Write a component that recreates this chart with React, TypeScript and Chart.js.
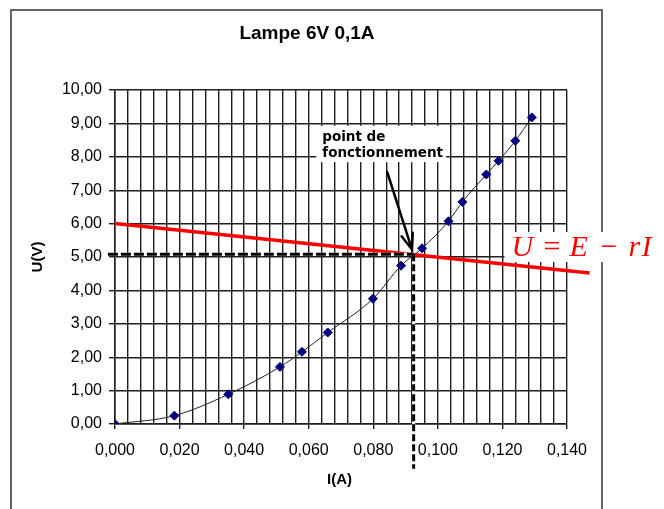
import React, { useEffect, useRef } from 'react';
import { Chart, registerables } from 'chart.js';
Chart.register(...registerables);

// Measured lamp characteristic
const currentA = [0, 0.0184, 0.0351, 0.0511, 0.0579, 0.0659, 0.0799, 0.0886, 0.0951, 0.1033, 0.1076, 0.115, 0.1188, 0.124, 0.1291];
const voltageV = [0, 0.25, 0.89, 1.71, 2.16, 2.74, 3.75, 4.74, 5.26, 6.07, 6.65, 7.47, 7.88, 8.48, 9.18];

// Load line U = E - rI
const loadLineI = [0, 0.147];
const loadLineU = [6.0, 4.52];

// Operating point guides
const guideHI = [-0.0022, 0.0925];
const guideHU = [5.08, 5.08];
const guideVI = [0.0925, 0.0925];
const guideVU = [5.08, -1.34];

// Annotation anchors (data coordinates)
const arrowI = [0.0843, 0.092];
const arrowU = [7.55, 5.22];
const noteI = 0.0642;
const noteU = [8.48, 7.99];
const noteLines = ['point de', 'fonctionnement'];
const formulaI = 0.1225;
const formulaU = 5.03;

const title = 'Lampe 6V 0,1A';
const xTitle = 'I(A)';
const yTitle = 'U(V)';

const xMin = 0, xMax = 0.14, xStep = 0.004;
const yMin = 0, yMax = 10, yStep = 1;

const isMajor = (v: number) => Math.round(v * 1000) % 20 === 0;
const GRID = '#1e1e1e';

const pts = (xs: number[], ys: number[]) => xs.map((x, i) => ({ x, y: ys[i] }));

const decor = {
  id: 'decor',
  beforeDraw(chart: any) {
    const ctx = chart.ctx;
    ctx.save();
    ctx.fillStyle = '#fff';
    ctx.fillRect(0, 0, chart.width, chart.height);
    ctx.restore();
  },
  afterDraw(chart: any) {
    const ctx = chart.ctx;
    const xs = chart.scales.x, ys = chart.scales.y;
    ctx.save();
    // outer frame
    ctx.strokeStyle = '#333';
    ctx.lineWidth = 1.5;
    ctx.strokeRect(11, 10, 591, 540);

    // title
    ctx.fillStyle = '#000';
    ctx.font = 'bold 19px "Liberation Sans", Arial, sans-serif';
    ctx.textAlign = 'center';
    ctx.textBaseline = 'alphabetic';
    ctx.fillText(title, 307, 39);

    // axis titles
    ctx.font = 'bold 15px "Liberation Sans", Arial, sans-serif';
    ctx.textBaseline = 'middle';
    ctx.fillText(xTitle, 339.5, 480);
    ctx.save();
    ctx.translate(38, 257);
    ctx.rotate(-Math.PI / 2);
    ctx.fillText(yTitle, 0, 0);
    ctx.restore();

    // note box
    ctx.font = 'bold 13.5px "DejaVu Sans", sans-serif';
    ctx.textAlign = 'left';
    ctx.textBaseline = 'alphabetic';
    const nx = xs.getPixelForValue(noteI);
    const ny0 = ys.getPixelForValue(noteU[0]);
    const ny1 = ys.getPixelForValue(noteU[1]);
    const w = Math.max(...noteLines.map((t) => ctx.measureText(t).width));
    ctx.fillStyle = '#fff';
    ctx.fillRect(nx - 6, ny0 - 15, w + 9, ny1 - ny0 + 20);
    ctx.fillStyle = '#000';
    ctx.fillText(noteLines[0], nx, ny0);
    ctx.fillText(noteLines[1], nx, ny1);

    // arrow
    const ax0 = xs.getPixelForValue(arrowI[0]), ay0 = ys.getPixelForValue(arrowU[0]);
    const ax1 = xs.getPixelForValue(arrowI[1]), ay1 = ys.getPixelForValue(arrowU[1]);
    ctx.strokeStyle = '#000';
    ctx.lineWidth = 2.5;
    ctx.lineCap = 'round';
    ctx.beginPath();
    ctx.moveTo(ax0, ay0);
    ctx.lineTo(ax1, ay1);
    const ang = Math.atan2(ay1 - ay0, ax1 - ax0);
    const hl = 17;
    ctx.moveTo(ax1 - hl * Math.cos(ang - 0.35), ay1 - hl * Math.sin(ang - 0.35));
    ctx.lineTo(ax1, ay1);
    ctx.lineTo(ax1 - hl * Math.cos(ang + 0.35), ay1 - hl * Math.sin(ang + 0.35));
    ctx.stroke();

    // formula
    const fx = xs.getPixelForValue(formulaI);
    const fy = ys.getPixelForValue(formulaU);
    ctx.fillStyle = '#fff';
    ctx.fillRect(fx - 6, fy - 24, 154, 30);
    ctx.fillStyle = '#ff0000';
    const it = 'italic 30px "Liberation Serif", "Times New Roman", serif';
    const up = '30px "Liberation Serif", "Times New Roman", serif';
    const parts: [string, string, number][] = [
      ['U', it, 1], ['=', up, 33], ['E', it, 59], ['\u2212', up, 90], ['r', it, 118], ['I', it, 131],
    ];
    parts.forEach(([t, f, dx]) => {
      ctx.font = f;
      ctx.fillText(t, fx + dx, fy);
    });
    ctx.restore();
  },
};

export default function App() {
  const ref = useRef<HTMLCanvasElement>(null);
  useEffect(() => {
    document.body.style.margin = '0';
    const chart = new Chart(ref.current!, {
      type: 'scatter',
      data: {
        datasets: [
          {
            data: pts(currentA, voltageV),
            showLine: true,
            cubicInterpolationMode: 'monotone',
            borderColor: '#222',
            borderWidth: 1,
            pointStyle: 'rectRot',
            pointRadius: 4.5,
            pointBackgroundColor: '#000080',
            pointBorderColor: '#000080',
            order: 0,
          },
          {
            data: pts(guideVI, guideVU),
            showLine: true,
            borderColor: '#000',
            borderWidth: 3,
            borderDash: [7, 3],
            pointRadius: 0,
            clip: false,
            order: 1,
          },
          {
            data: pts(guideHI, guideHU),
            showLine: true,
            borderColor: '#000',
            borderWidth: 3,
            borderDash: [10, 3],
            pointRadius: 0,
            clip: false,
            order: 1,
          },
          {
            data: pts(guideVI, guideVU),
            showLine: true,
            borderColor: '#fff',
            borderWidth: 3,
            pointRadius: 0,
            clip: false,
            order: 2,
          },
          {
            data: pts(guideHI, guideHU),
            showLine: true,
            borderColor: '#fff',
            borderWidth: 3,
            pointRadius: 0,
            clip: false,
            order: 2,
          },
          {
            data: pts(loadLineI, loadLineU),
            showLine: true,
            borderColor: '#ff0000',
            borderWidth: 3.5,
            pointRadius: 0,
            clip: false,
            order: 3,
          },
        ],
      },
      options: {
        animation: false,
        responsive: false,
        maintainAspectRatio: false,
        layout: { padding: { top: 90, left: 0, right: 97, bottom: 0 } },
        plugins: { legend: { display: false }, tooltip: { enabled: false }, title: { display: false } },
        scales: {
          x: {
            type: 'linear',
            min: xMin,
            max: xMax,
            afterFit: (s: any) => { s.height = 85; },
            border: { color: GRID, width: 1.5 },
            grid: {
              color: GRID,
              lineWidth: 1.4,
              tickLength: 5,
              tickColor: (c: any) => (c.tick && isMajor(c.tick.value) ? GRID : 'rgba(0,0,0,0)'),
            },
            ticks: {
              stepSize: xStep,
              autoSkip: false,
              maxRotation: 0,
              minRotation: 0,
              padding: 12,
              color: '#000',
              font: { family: '"Liberation Sans", Arial, sans-serif', size: 16 },
              callback: (v: any) => (isMajor(Number(v)) ? Number(v).toFixed(3).replace('.', ',') : ''),
            },
          },
          y: {
            type: 'linear',
            min: yMin,
            max: yMax,
            afterFit: (s: any) => { s.width = 115; },
            border: { color: GRID, width: 1.5 },
            grid: { color: GRID, lineWidth: 1.4, tickLength: 6, tickColor: GRID },
            ticks: {
              stepSize: yStep,
              padding: 7,
              color: '#000',
              font: { family: '"Liberation Sans", Arial, sans-serif', size: 16 },
              callback: (v: any) => Number(v).toFixed(2).replace('.', ','),
            },
          },
        },
      },
      plugins: [decor],
    });
    return () => chart.destroy();
  }, []);
  return <canvas ref={ref} width={664} height={509} style={{ display: 'block', width: 664, height: 509 }} />;
}
